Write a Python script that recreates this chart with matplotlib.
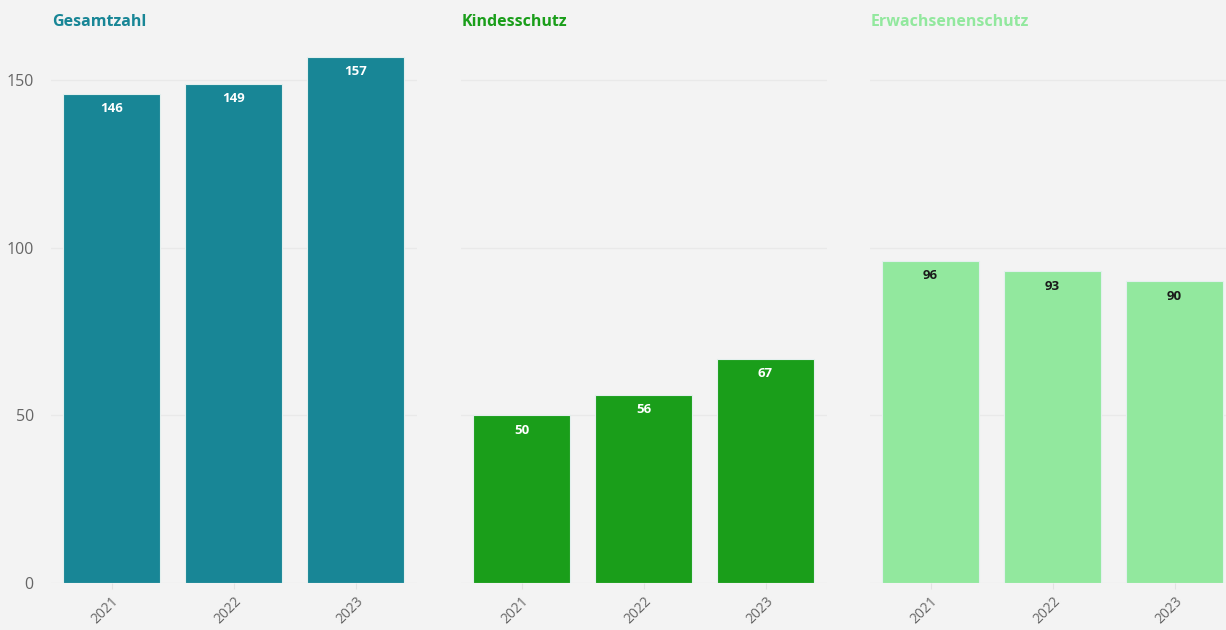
import matplotlib
matplotlib.use("Agg")
import matplotlib.pyplot as plt

years = ["2021", "2022", "2023"]
panel_titles = ["Gesamtzahl", "Kindesschutz", "Erwachsenenschutz"]
gesamtzahl = [146, 149, 157]
kindesschutz = [50, 56, 67]
erwachsenenschutz = [96, 93, 90]
series = [gesamtzahl, kindesschutz, erwachsenenschutz]

bar_colors = ["#188696", "#1a9e1a", "#92e89e"]
label_colors = ["white", "white", "#1a1a1a"]
bg = "#f3f3f3"
grid_color = "#e9e9e9"
tick_color = "#666666"

plt.rcParams["font.family"] = ["Open Sans", "DejaVu Sans"]

W, H = 1226, 630
fig = plt.figure(figsize=(W / 100, H / 100), dpi=100, facecolor=bg)

# axes placement in pixels (left edges); shared vertical extent
lefts = [50.5, 460.5, 869.5]
width_px = 366
bottom_px = 583
ymax = 160
unit = 526 / 157
top_px = bottom_px - ymax * unit

for i, (vals, title) in enumerate(zip(series, panel_titles)):
    ax = fig.add_axes([lefts[i] / W, (H - bottom_px) / H,
                       width_px / W, (bottom_px - top_px) / H])
    ax.set_facecolor(bg)
    x = range(len(years))
    bars = ax.bar(x, vals, width=0.8, color=bar_colors[i],
                  edgecolor="#e3f0ee", linewidth=0.8, zorder=3)
    for b, v in zip(bars, vals):
        ax.annotate(str(v), (b.get_x() + b.get_width() / 2, v),
                    xytext=(0, -10.5), textcoords="offset points",
                    ha="center", va="center", fontsize=9.5,
                    fontweight="bold", color=label_colors[i], zorder=4)
    ax.set_xlim(-0.5, 2.5)
    ax.set_ylim(0, ymax)
    ax.set_yticks([0, 50, 100, 150])
    ax.grid(axis="y", color=grid_color, linewidth=1, zorder=0)
    for s in ax.spines.values():
        s.set_visible(False)
    ax.set_xticks(list(x))
    ax.set_xticklabels(years, rotation=45, ha="right", rotation_mode="anchor",
                       fontsize=10, color=tick_color)
    ax.tick_params(axis="x", length=4, color="#e2e2e2", pad=4)
    if i == 0:
        ax.tick_params(axis="y", length=0, labelsize=11.5,
                       labelcolor=tick_color, pad=12)
    else:
        ax.tick_params(axis="y", length=0, labelleft=False)
    fig.text((lefts[i] + 1.5) / W, 1 - 22 / H, title, ha="left", va="center",
             fontsize=11.5, fontweight="bold", color=bar_colors[i])

fig.savefig("out.png", dpi=100, facecolor=bg)
